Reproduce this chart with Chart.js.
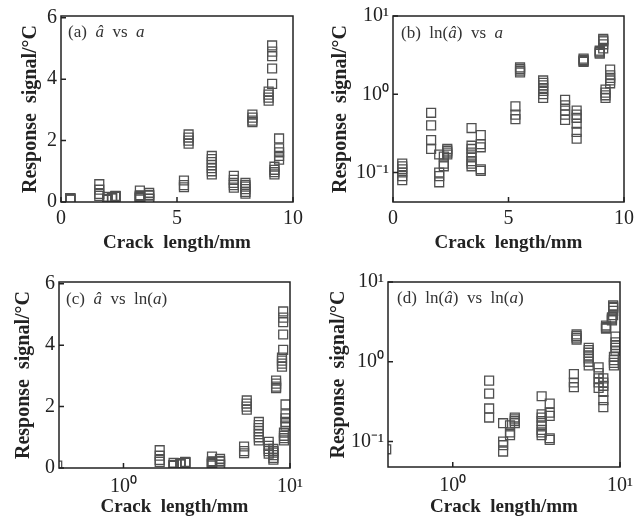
<!DOCTYPE html>
<html><head><meta charset="utf-8">
<script src="https://cdn.jsdelivr.net/npm/chart.js@4.4.1/dist/chart.umd.min.js"></script>
<style>
body{margin:0;background:#fff;}
#wrap{position:relative;width:642px;height:518px;}
canvas{position:absolute;}
.lab{position:absolute;font:17px "Liberation Serif",serif;color:#333;white-space:pre;line-height:20px;}
</style></head><body>
<div id="wrap">
<canvas id="pa" width="321" height="259" style="left:0;top:0"></canvas>
<canvas id="pb" width="321" height="259" style="left:321px;top:0"></canvas>
<canvas id="pc" width="321" height="259" style="left:0;top:259px"></canvas>
<canvas id="pd" width="321" height="259" style="left:321px;top:259px"></canvas>
<div class="lab" style="left:68px;top:22px">(a)  <i>â</i>  vs  <i>a</i></div>
<div class="lab" style="left:401px;top:23px">(b)  ln(<i>â</i>)  vs  <i>a</i></div>
<div class="lab" style="left:66px;top:289px">(c)  <i>â</i>  vs  ln(<i>a</i>)</div>
<div class="lab" style="left:397px;top:288px">(d)  ln(<i>â</i>)  vs  ln(<i>a</i>)</div>
</div>
<script>
/* crack length (mm) of each group and the response signals (°C) measured there */
const crackMm=[0.4,1.65,2.0,2.2,2.35,3.4,3.8,5.3,5.5,6.5,7.45,7.95,8.25,8.95,9.1,9.2,9.4];
const signalC=[
  [0.13,0.12,0.11,0.1,0.09,0.08],
  [0.58,0.4,0.26,0.2],
  [0.17,0.1,0.09,0.075],
  [0.16,0.13,0.12],
  [0.2,0.19,0.18,0.17],
  [0.37,0.22,0.2,0.18,0.16,0.14,0.13,0.12],
  [0.3,0.23,0.21,0.11,0.105],
  [0.7,0.55,0.48],
  [2.2,2.1,2.0,1.9],
  [1.5,1.4,1.3,1.2,1.1,1.0,0.9],
  [0.85,0.72,0.62,0.55,0.47],
  [0.62,0.55,0.5,0.42,0.33,0.27],
  [2.85,2.75,2.65,2.6],
  [3.6,3.5,3.4,3.3],
  [5.1,4.9,4.75,4.35,3.85],
  [1.15,1.05,0.97,0.9],
  [2.07,1.75,1.62,1.5,1.38]
];
const xLinTicks=[0,5,10], xLinLabels=['0','5','10'];
const xLogTicks=[1,10], xLogLabels=['10⁰','10¹'];
const yLinTicks=[0,2,4,6], yLinLabels=['0','2','4','6'];
const yLogTicks=[0.1,1,10], yLogLabels=['10⁻¹','10⁰','10¹'];

const points=[];
crackMm.forEach((x,i)=>signalC[i].forEach(y=>points.push({x,y})));

const ink='#222';
const frame={id:'frame',afterDatasetsDraw(c){
  const {ctx,chartArea:a,scales:{x,y}}=c;
  ctx.save();ctx.strokeStyle=ink;ctx.lineWidth=1.5;
  ctx.strokeRect(a.left,a.top,a.right-a.left,a.bottom-a.top);
  ctx.beginPath();
  x.ticks.forEach(t=>{const p=x.getPixelForValue(t.value);ctx.moveTo(p,a.bottom);ctx.lineTo(p,a.bottom-5);});
  y.ticks.forEach(t=>{const p=y.getPixelForValue(t.value);ctx.moveTo(a.left,p);ctx.lineTo(a.left+5,p);});
  ctx.stroke();ctx.restore();}};

const tickFont={family:'"Liberation Serif", serif',size:20};
const xTitleFont={family:'"Liberation Serif", serif',size:19,weight:'bold'};
const yTitleFont={family:'"Liberation Serif", serif',size:20,weight:'bold'};

function panel(id,o){
  new Chart(document.getElementById(id),{
    type:'scatter',
    data:{datasets:[{data:points,showLine:false,pointStyle:'rect',pointRadius:6.3,
      pointBorderColor:'#505050',pointBorderWidth:1.3,pointBackgroundColor:'rgba(0,0,0,0)'}]},
    options:{responsive:false,animation:false,devicePixelRatio:1,
      layout:{padding:{top:o.top,right:o.right,left:0,bottom:0}},
      plugins:{legend:{display:false},tooltip:{enabled:false}},
      scales:{
        x:{type:o.xLog?'logarithmic':'linear',min:o.xMin,max:o.xMax,
          afterBuildTicks:s=>{s.ticks=o.xT.map(v=>({value:v}));},
          afterFit:s=>{s.height=o.xh;},
          ticks:{padding:o.xpad,font:tickFont,color:ink,maxRotation:0,autoSkip:false,callback:(v,i)=>o.xL[i]},
          grid:{display:false,drawTicks:false},border:{display:false},
          title:{display:true,text:'Crack  length/mm',font:xTitleFont,color:ink,padding:{top:0,bottom:o.xtp}}},
        y:{type:o.yLog?'logarithmic':'linear',min:o.yMin,max:o.yMax,
          afterBuildTicks:s=>{s.ticks=o.yT.map(v=>({value:v}));},
          afterFit:s=>{s.width=o.yw;},
          ticks:{padding:4,font:tickFont,color:ink,autoSkip:false,callback:(v,i)=>o.yL[i]},
          grid:{display:false,drawTicks:false},border:{display:false},
          title:{display:true,text:'Response  signal/°C',font:yTitleFont,color:ink,padding:{top:o.ytp,bottom:0}}}
      }},
    plugins:[frame]});
}

panel('pa',{xLog:false,xMin:0,xMax:10,xT:xLinTicks,xL:xLinLabels,yLog:false,yMin:0,yMax:6.06,yT:yLinTicks,yL:yLinLabels,
  top:16,right:28,xh:57,yw:61,xtp:5,ytp:19,xpad:5});
panel('pb',{xLog:false,xMin:0,xMax:10,xT:xLinTicks,xL:xLinLabels,yLog:true,yMin:0.042,yMax:10,yT:yLogTicks,yL:yLogLabels,
  top:16,right:18,xh:57,yw:72,xtp:5,ytp:8,xpad:5});
panel('pc',{xLog:true,xMin:0.41,xMax:10,xT:xLogTicks,xL:xLogLabels,yLog:false,yMin:0,yMax:6.06,yT:yLinTicks,yL:yLinLabels,
  top:23,right:31,xh:50,yw:59,xtp:0,ytp:12,xpad:7});
panel('pd',{xLog:true,xMin:0.41,xMax:10,xT:xLogTicks,xL:xLogLabels,yLog:true,yMin:0.048,yMax:10,yT:yLogTicks,yL:yLogLabels,
  top:23,right:22,xh:51,yw:67,xtp:0,ytp:6,xpad:7});
</script>
</body></html>
